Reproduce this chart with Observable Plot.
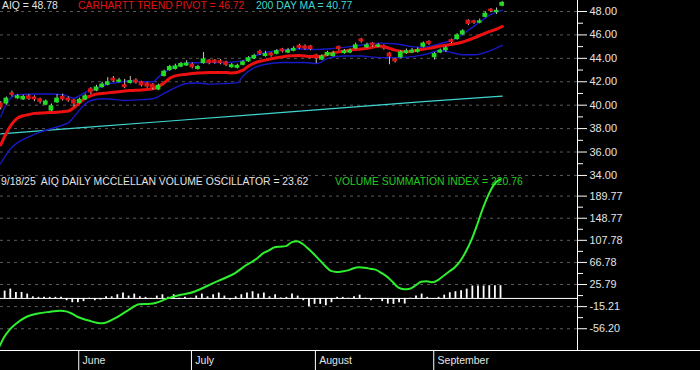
<!DOCTYPE html>
<html><head><meta charset="utf-8">
<script src="https://cdn.jsdelivr.net/npm/d3@7"></script>
<script src="https://cdn.jsdelivr.net/npm/@observablehq/plot@0.6"></script>
<style>
html,body{margin:0;padding:0;background:#000;}
#chart{position:relative;width:700px;height:370px;background:#000;overflow:hidden;font-family:Arial,"Liberation Sans",sans-serif;}
#chart svg{position:absolute;left:0;}
.lbl{position:absolute;font-size:10.4px;white-space:pre;line-height:12px;}
</style></head><body><div id="chart"></div>
<script>
// ---- data (trading-day index 0 = first visible session) ----
const lastDate = "9/18/25";
const monthNames = ["June", "July", "August", "September"];
const monthStart = [14, 34, 56, 77];

const open = [40.2,40.1,41.05,40.55,40.45,40.8,40.7,40.55,40.0,39.5,
40.2,40.75,40.6,40.45,40.15,40.45,41.4,41.2,41.5,41.7,
42.3,41.95,41.75,41.85,42.15,42.0,41.9,41.8,41.3,42.45,
42.95,43.05,43.25,43.35,43.5,43.05,43.55,43.85,43.85,43.8,
43.7,43.2,43.15,43.4,43.7,43.95,44.6,44.15,44.45,44.35,
44.8,44.45,44.6,45.1,45.05,45.05,44.3,43.85,44.2,44.15,
45.0,44.4,44.45,44.8,45.65,44.9,45.3,44.95,45.1,44.45,
43.95,44.05,44.4,44.45,44.5,44.95,45.45,44.05,44.45,44.65,
45.6,45.6,46.0,47.25,47.2,47.0,47.5,48.2,47.9,48.45];
const high = [40.3,40.7,41.2,40.9,40.85,40.9,40.8,40.6,40.45,40.1,
40.9,40.95,40.7,40.5,40.6,40.95,41.5,41.7,41.95,42.35,
42.45,42.3,42.2,42.45,42.25,42.05,41.95,41.85,41.8,43.0,
43.4,43.5,43.65,43.8,43.6,43.4,44.5,43.9,43.9,43.9,
43.75,43.55,43.5,43.8,44.15,44.35,44.7,44.6,44.5,44.75,
44.85,44.85,45.0,45.2,45.15,45.1,44.35,44.3,44.6,44.6,
45.05,44.75,44.8,45.3,45.7,45.3,45.35,45.25,45.15,44.5,
44.0,44.65,44.8,44.85,44.9,45.4,45.5,44.5,44.8,45.0,
45.65,46.1,46.45,47.3,47.25,47.35,47.95,48.25,48.3,48.85];
const low = [39.6,40.0,40.7,40.5,40.4,40.4,40.3,40.1,39.95,39.45,
40.15,40.35,40.25,39.85,40.1,40.4,40.9,41.15,41.45,41.65,
41.95,41.9,41.4,41.8,41.8,41.55,41.45,41.3,41.25,42.4,
42.9,43.0,43.2,43.3,43.1,43.0,43.5,43.45,43.5,43.45,
43.3,43.15,43.1,43.35,43.65,43.9,44.25,44.1,44.1,44.3,
44.45,44.4,44.55,44.75,44.7,44.65,43.55,43.8,44.15,44.1,
44.65,44.35,44.4,44.75,45.3,44.85,44.95,44.9,44.7,43.45,
43.6,44.0,44.35,44.4,44.45,44.9,45.1,43.85,44.4,44.5,
45.25,45.55,45.95,46.8,46.9,46.95,47.45,47.9,47.75,48.4];
const close = [39.75,40.6,40.85,40.8,40.75,40.5,40.45,40.25,40.35,39.95,
40.6,40.45,40.35,40.1,40.5,40.8,41.05,41.55,41.8,42.0,
42.05,42.15,41.5,42.1,41.9,41.65,41.55,41.45,41.7,42.9,
43.3,43.35,43.55,43.6,43.2,43.3,43.95,43.55,43.6,43.55,
43.4,43.45,43.4,43.7,44.05,44.25,44.35,44.4,44.2,44.65,
44.55,44.7,44.85,44.85,44.8,44.75,43.95,44.2,44.5,44.45,
44.75,44.65,44.7,45.15,45.4,45.15,45.05,45.15,44.8,44.1,
43.7,44.55,44.65,44.7,44.75,45.3,45.2,44.4,44.7,44.9,
45.35,46.0,46.35,46.9,47.0,47.2,47.85,48.0,48.1,48.78];

const pivotIdx = [0,1,2,3,4,5,6,8,10,12,13,14,15,16,17,19,21,23,25,27,28,29,30,31,33,35,37,40,41,43,44,45,47,49,51,53,55,57,58,60,62,64,66,67,68,69,70,72,74,76,78,80,82,84,86,88,89];
const pivotVal = [36.6,37.6,38.4,38.9,39.1,39.2,39.3,39.35,39.4,39.5,39.8,40.2,40.6,40.8,40.95,41.05,41.15,41.25,41.3,41.4,41.6,41.9,42.3,42.5,42.65,42.75,42.8,42.8,42.75,43.0,43.35,43.6,43.85,44.05,44.2,44.25,44.15,44.15,44.35,44.55,44.7,44.8,44.95,45.05,45.0,44.85,44.7,44.55,44.7,44.85,45.05,45.2,45.4,45.75,46.15,46.5,46.72];

const upIdx = [0,1,2,3,6,9,11,13,15,17,19,21,23,25,27,28,29,31,33,36,40,43,45,47,50,53,56,59,62,65,67,70,73,75,78,81,83,85,87,89];
const upVal = [39.0,40.1,40.7,40.9,40.95,40.95,40.9,40.6,41.1,41.4,41.8,41.95,42.1,42.0,42.0,42.4,42.8,43.3,43.6,43.65,43.65,43.8,44.2,44.5,44.7,44.8,44.75,44.85,45.0,45.2,45.3,45.25,45.0,44.95,45.25,45.75,46.4,47.1,47.75,48.1];

const loIdx = [0,1,2,3,5,7,9,11,12,13,14,15,16,18,20,22,24,27,29,31,33,35,37,40,42,43,45,47,50,54,56,57,58,61,64,66,69,72,75,78,80,82,84,86,89];
const loVal = [35.0,35.8,36.4,36.8,37.3,37.7,38.0,38.3,38.5,39.0,39.6,40.1,40.4,40.55,40.5,40.4,40.45,40.55,41.0,41.5,41.85,41.9,41.8,41.85,41.9,42.5,43.2,43.5,43.65,43.65,43.55,43.7,44.0,44.2,44.2,44.1,44.05,44.1,44.3,44.65,44.5,44.3,44.3,44.5,45.1];

const maIdx = [0,15,30,45,60,75,89];
const maVal = [37.55,38.1,38.65,39.2,39.75,40.3,40.77];

const osc = [11,13.6,17.3,11,11,8,3,2,2,2,
2,2,-4.3,-8,-8,-6,0.5,-4.3,-3,3,
3,6.8,10,4.3,8,3,2,-2,4.3,6.8,
2,6.8,0.5,2,0.5,4.3,8,3,6.8,10,
4.3,-3,3,6.8,10,12.4,8,10,3,6.8,
1,2,8,4.3,-4.3,-15.5,-11,-11,-13.6,-8,
2,2,0.5,3,6,0.5,-4.3,0,-6,-10.5,
-11,-8,-10.5,0.5,4.3,8,2,-2,2,6,
10.5,12.4,14.2,17.3,23,23,23,23.5,23.5,23.62];

const vsiIdx = [0,1,2,3,5,7,9,11,12,13,14,16,18,19,21,23,25,27,28,30,32,34,36,38,40,42,44,45,46,47,48,49,50,51,52,53,54,55,56,57,58,59,60,61,62,63,64,65,66,67,68,69,70,71,72,73,74,75,76,77,78,79,80,81,82,83,84,85,86,87,88,89];
const vsiVal = [-93,-72,-58,-48,-34,-28,-25,-23,-24,-28,-34,-41,-46,-45,-35,-22,-11,-10,-8,0,6,10,18,28,37,47,62,68,75,84,89,95,96,97,104,106,101,92,82,71,60,51,49,50,52,56,58,57,55,53,47,40,30,20,17,18,24,31,32,30,34,42,50,58,70,88,110,138,168,193,212,220.76];

const priceTicks = [34,36,38,40,42,44,46,48];
const priceMinor = [35,37,39,41,43,45,47];
const oscTicks = [-56.20,-15.21,25.79,66.78,107.78,148.77,189.77];

// ---- layout ----
const PX0 = 0.2, STEP = 5.635, AXIS_X = 577;
const xDom = [(0 - PX0) / STEP, (AXIS_X - PX0) / STEP];
const xDomFull = [(0 - PX0) / STEP, (700 - PX0) / STEP];
const GREEN = "#22dd22", RED = "#e01414", GRID = "#5a5a5a", TXT = "#e4e4e4";
const baseStyle = {background: "transparent", overflow: "visible", color: TXT,
  fontFamily: "Arial, 'Liberation Sans', sans-serif", fontSize: "11px"};

const pairs = (ix, vals) => ix.map((i, k) => ({i, v: vals[k]}));
const candles = d3.range(close.length).map(i => ({i, o: open[i], h: high[i], l: low[i], c: close[i]}));
const oscData = osc.map((v, i) => ({i, v}));
const oscMinor = d3.pairs(oscTicks).map(([a, b]) => (a + b) / 2);

const chart = document.getElementById("chart");
function label(text, left, top, color) {
  const d = document.createElement("div");
  d.className = "lbl"; d.textContent = text;
  d.style.left = left + "px"; d.style.top = top + "px"; d.style.color = color;
  chart.appendChild(d);
}
label(`AIQ = ${close[close.length-1].toFixed(2)}`, 2, 0, TXT);
label(`CARHARTT TREND PIVOT = ${pivotVal[pivotVal.length-1].toFixed(2)}`, 78, 0, RED);
label(`200 DAY MA = ${maVal[maVal.length-1].toFixed(2)}`, 256, 0, "#3fd6d0");
label(`${lastDate}  AIQ DAILY MCCLELLAN VOLUME OSCILLATOR = ${osc[osc.length-1].toFixed(2)}`, 1, 175.5, TXT);
label(`VOLUME SUMMATION INDEX = ${vsiVal[vsiVal.length-1].toFixed(2)}`, 335, 175.5, "#22cc22");

const upper = Plot.plot({
  width: 700, height: 177, marginTop: 0, marginBottom: 0, marginLeft: 0, marginRight: 700 - AXIS_X,
  x: {domain: xDom, axis: null},
  y: {domain: [33.824, 48.939], axis: null, label: null},
  color: {type: "identity"},
  style: baseStyle,
  marks: [
    Plot.ruleY(priceTicks, {stroke: GRID, strokeDasharray: "3,4"}),
    Plot.line(pairs(maIdx, maVal), {x: "i", y: "v", stroke: "#3fd6d0", strokeWidth: 1.2}),
    Plot.line(pairs(loIdx, loVal), {x: "i", y: "v", stroke: "#1818c8", strokeWidth: 1.4, curve: "monotone-x"}),
    Plot.line(pairs(upIdx, upVal), {x: "i", y: "v", stroke: "#1818c8", strokeWidth: 1.4, curve: "monotone-x"}),
    Plot.line(pairs(pivotIdx, pivotVal), {x: "i", y: "v", stroke: "#ee1010", strokeWidth: 3, curve: "monotone-x"}),
    Plot.ruleX(candles, {x: "i", y1: "l", y2: "h", stroke: "#c8c8c8", strokeWidth: 1}),
    Plot.rect(candles, {x1: d => d.i - 0.42, x2: d => d.i + 0.42,
      y1: d => Math.min(d.o, d.c), y2: d => Math.max(d.o, d.c),
      fill: d => d.c >= d.o ? GREEN : RED}),
    Plot.ruleX([xDom[1]], {stroke: "white"}),
    Plot.axisY(priceTicks, {anchor: "right", tickSize: 9, tickPadding: 3, tickFormat: d => d.toFixed(2), stroke: "white", fill: TXT, fontSize: 11}),
    Plot.axisY(priceMinor, {anchor: "right", tickSize: 5, tickFormat: () => "", stroke: "white"})
  ]
});
upper.style.top = "0px";

const lower = Plot.plot({
  width: 700, height: 173, marginTop: 0, marginBottom: 0, marginLeft: 0, marginRight: 700 - AXIS_X,
  x: {domain: xDom, axis: null},
  y: {domain: [-96.6, 224.3], axis: null, label: null},
  style: baseStyle,
  marks: [
    Plot.ruleY(oscTicks, {stroke: GRID, strokeDasharray: "3,4"}),
    Plot.ruleY([0], {stroke: "white"}),
    Plot.ruleX(oscData, {x: d => d.i - 0.3, y1: 0, y2: "v", stroke: "white", strokeWidth: 1.8}),
    Plot.line(pairs(vsiIdx, vsiVal), {x: d => d.i - 0.4, y: "v", stroke: "#2ef02e", strokeWidth: 2, curve: "monotone-x"}),
    Plot.ruleX([xDom[1]], {stroke: "white"}),
    Plot.axisY(oscTicks, {anchor: "right", tickSize: 9, tickPadding: 3, tickFormat: d => d.toFixed(2), stroke: "white", fill: TXT, fontSize: 10.8}),
    Plot.axisY(oscMinor, {anchor: "right", tickSize: 5, tickFormat: () => "", stroke: "white"})
  ]
});
lower.style.top = "177px";

const strip = Plot.plot({
  width: 700, height: 20, margin: 0,
  x: {domain: xDomFull, axis: null},
  y: {domain: [0, 1], range: [0, 20], axis: null, label: null},
  style: baseStyle,
  marks: [
    Plot.ruleY([0], {stroke: "white"}),
    Plot.ruleX(monthStart, {x: d => d - 0.15, y1: 0, y2: 1, stroke: "white"}),
    Plot.text(monthNames, {x: (d, k) => monthStart[k], y: () => 0.5, text: d => d, dx: 3, textAnchor: "start", fill: TXT, fontSize: 10.5})
  ]
});
strip.style.top = "350px";

chart.appendChild(upper);
chart.appendChild(lower);
chart.appendChild(strip);
</script>
</body></html>
